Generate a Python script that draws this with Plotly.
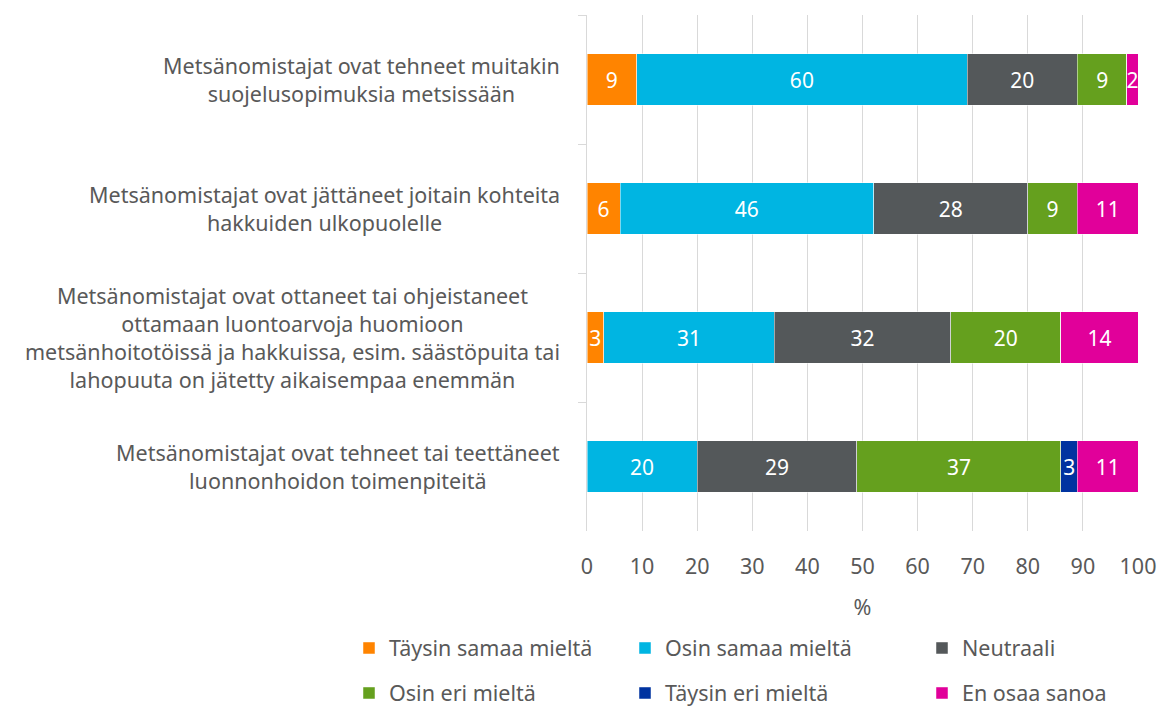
import plotly.graph_objects as go

categories = [
    "Metsänomistajat ovat tehneet muitakin<br>suojelusopimuksia metsissään",
    "Metsänomistajat ovat jättäneet joitain kohteita<br>hakkuiden ulkopuolelle",
    "Metsänomistajat ovat ottaneet tai ohjeistaneet<br>ottamaan luontoarvoja huomioon<br>metsänhoitotöissä ja hakkuissa, esim. säästöpuita tai<br>lahopuuta on jätetty aikaisempaa enemmän",
    "Metsänomistajat ovat tehneet tai teettäneet<br>luonnonhoidon toimenpiteitä",
]
series_names = ["Täysin samaa mieltä", "Osin samaa mieltä", "Neutraali",
                "Osin eri mieltä", "Täysin eri mieltä", "En osaa sanoa"]
taysin_samaa = [9, 6, 3, 0]
osin_samaa = [60, 46, 31, 20]
neutraali = [20, 28, 32, 29]
osin_eri = [9, 9, 20, 37]
taysin_eri = [0, 0, 0, 3]
en_osaa = [2, 11, 14, 11]
x_ticks = [0, 10, 20, 30, 40, 50, 60, 70, 80, 90, 100]

colors = ["#FF8400", "#00B5E2", "#54585A", "#65A01E", "#0033A0", "#E1009A"]
series_values = [taysin_samaa, osin_samaa, neutraali, osin_eri, taysin_eri, en_osaa]

ids = ["c0", "c1", "c2", "c3"]

FONT = "Noto Sans"
TXT = "#595959"
W, H = 1158, 707

# legend item positions (pixels: marker centre x, row centre y)
leg_pos = [(369, 648), (645, 648), (942, 648), (369, 693), (645, 693), (942, 693)]

fig = go.Figure()
for i, (name, vals, col) in enumerate(zip(series_names, series_values, colors)):
    fig.add_trace(go.Bar(
        name=name, y=ids, x=vals, orientation="h",
        marker=dict(color=col, line=dict(color="rgba(255,255,255,0.6)", width=0.8)),
        text=[str(v) if v else "" for v in vals],
        textposition="inside", insidetextanchor="middle",
        textfont=dict(color="white", size=21, family=FONT),
        constraintext="none", cliponaxis=False,
        hoverinfo="x+name",
        legend="legend" if i == 0 else f"legend{i + 1}",
    ))

for cid, label in zip(ids, categories):
    fig.add_annotation(
        x=0, xref="paper", y=cid, yref="y", text=label, showarrow=False,
        xanchor="right", yanchor="middle", align="center", xshift=-25,
        font=dict(size=21.5, color=TXT, family=FONT),
    )

legends = {}
for i, (mx, my) in enumerate(leg_pos):
    key = "legend" if i == 0 else f"legend{i + 1}"
    legends[key] = dict(
        orientation="h", xref="container", yref="container",
        x=(mx - 20) / W, xanchor="left", y=1 - my / H, yanchor="middle",
        font=dict(size=21.5, color=TXT, family=FONT),
        itemwidth=30, bgcolor="rgba(0,0,0,0)", borderwidth=0,
    )

fig.update_layout(
    barmode="stack", bargap=0.6,
    width=W, height=H,
    margin=dict(l=587, r=20, t=15, b=176, autoexpand=False),
    paper_bgcolor="white", plot_bgcolor="white",
    font=dict(family=FONT, color=TXT),
    uniformtext=dict(minsize=21, mode="show"),
    showlegend=True,
    xaxis=dict(
        range=[0, 100], tickvals=x_ticks, showgrid=True, gridcolor="#D9D9D9",
        gridwidth=1, zeroline=False, showline=False,
        ticks="outside", ticklen=16, tickcolor="rgba(0,0,0,0)",
        tickfont=dict(size=21.5, color=TXT),
        title=dict(text="%", font=dict(size=21.5, color=TXT), standoff=21),
        fixedrange=True,
    ),
    yaxis=dict(
        type="category", categoryorder="array", categoryarray=ids,
        autorange="reversed", showticklabels=False,
        tickson="boundaries", ticks="outside", ticklen=8, tickcolor="#D9D9D9",
        showline=True, linecolor="#D9D9D9", linewidth=1, showgrid=False,
        fixedrange=True,
    ),
    **legends,
)

fig.write_html(
    "out.html",
    config={"displayModeBar": False},
    post_script="document.body.style.margin='0';document.body.style.overflow='hidden';",
)
